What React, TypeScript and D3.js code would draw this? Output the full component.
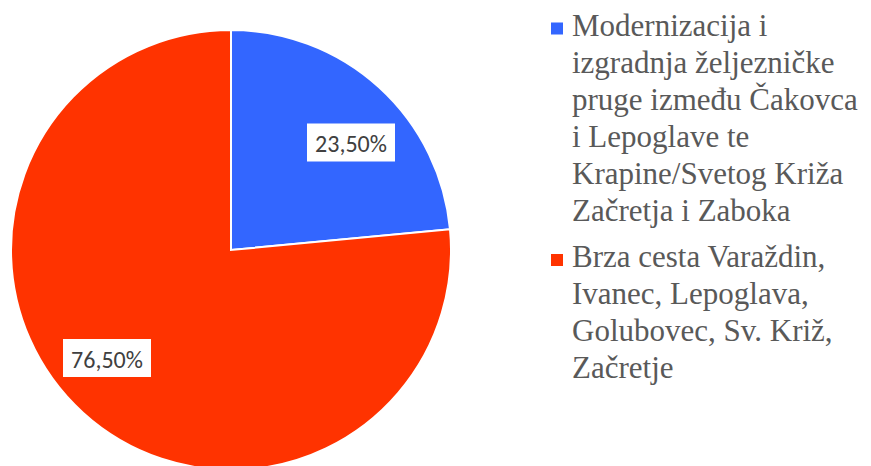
import React from "react";
import * as d3 from "d3";

const categories = [
  "Modernizacija i izgradnja željezničke pruge između Čakovca i Lepoglave te Krapine/Svetog Križa Začretja i Zaboka",
  "Brza cesta Varaždin, Ivanec, Lepoglava, Golubovec, Sv. Križ, Začretje",
];
const values = [23.5, 76.5];
const labels = ["23,50%", "76,50%"];
const legendLines = [
  ["Modernizacija i", "izgradnja željezničke", "pruge između Čakovca", "i Lepoglave te", "Krapine/Svetog Križa", "Začretja i Zaboka"],
  ["Brza cesta Varaždin,", "Ivanec, Lepoglava,", "Golubovec, Sv. Križ,", "Začretje"],
];
const colors = ["#3366FF", "#FF3300"];

export default function App() {
  const W = 871, H = 466;
  const cx = 231, cy = 250, r = 220;
  const pie = d3.pie<number>().sort(null).value((d) => d);
  const arcs = pie(values);
  const arc = d3.arc<d3.PieArcDatum<number>>().innerRadius(0).outerRadius(r);
  const labelPos = [
    [351, 142.5],
    [107, 358],
  ];
  const lh = 37;
  const legendBaselines = [35.5, 267];
  return (
    <svg width={W} height={H} style={{ position: "absolute", left: 0, top: 0 }}>
      <rect width={W} height={H} fill="#fff" />
      <g transform={`translate(${cx},${cy})`}>
        {arcs.map((a, i) => (
          <path key={i} d={arc(a) || ""} fill={colors[i]} stroke="#fff" strokeWidth={2} strokeLinejoin="miter" />
        ))}
      </g>
      {labels.map((t, i) => {
        const [x, y] = labelPos[i];
        return (
          <g key={i}>
            <rect x={x - 44} y={y - 19} width={88} height={38} fill="#fff" />
            <text x={x} y={y + 1} textAnchor="middle" dominantBaseline="central" fontFamily="Carlito, 'Open Sans', 'DejaVu Sans', sans-serif" fontSize={24} fill="#404040">{t}</text>
          </g>
        );
      })}
      {legendLines.map((lines, i) => (
        <g key={i}>
          <rect x={551} y={legendBaselines[i] - 13} width={12} height={12} fill={colors[i]} />
          {lines.map((l, j) => (
            <text key={j} x={572} y={legendBaselines[i] + j * lh} fontFamily="'Liberation Serif', 'Times New Roman', serif" fontSize={31} fill="#595959">{l}</text>
          ))}
        </g>
      ))}
    </svg>
  );
}
